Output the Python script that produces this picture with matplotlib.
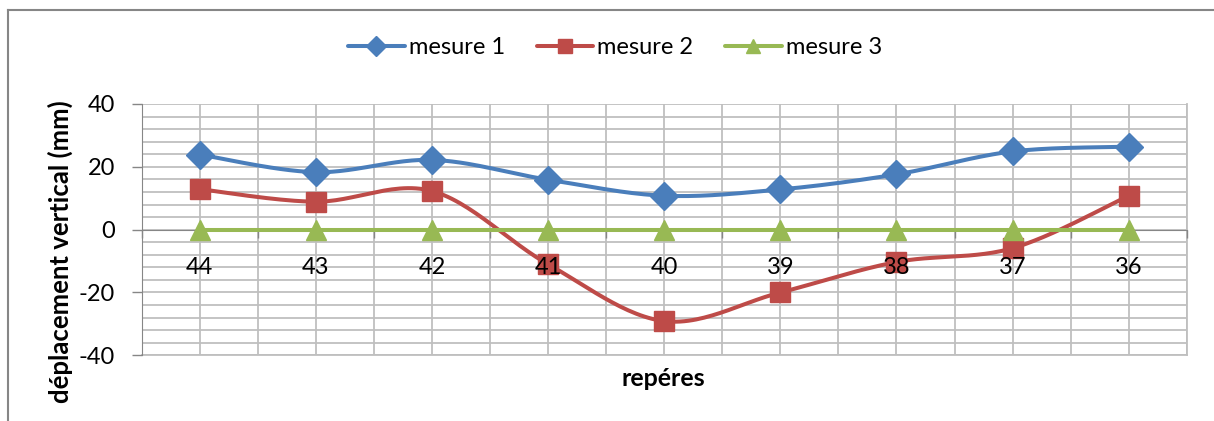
import matplotlib
matplotlib.use("Agg")
import matplotlib.pyplot as plt
from matplotlib.lines import Line2D
from matplotlib.transforms import offset_copy
import numpy as np

plt.rcParams["font.family"] = ["Lato", "DejaVu Sans"]
plt.rcParams["axes.unicode_minus"] = False

# Data
REPERES = ["44", "43", "42", "41", "40", "39", "38", "37", "36"]
MESURE_1 = [23.9, 18.3, 22.2, 15.9, 10.8, 12.8, 17.6, 24.9, 26.4]
MESURE_2 = [12.9, 8.9, 12.3, -11.0, -29.1, -20.0, -10.3, -5.9, 10.8]
MESURE_3 = [0, 0, 0, 0, 0, 0, 0, 0, 0]

SERIES = [
    ("mesure 1", MESURE_1, "#4A7EBB", "D", 14),
    ("mesure 2", MESURE_2, "#BE4B48", "s", 14),
    ("mesure 3", MESURE_3, "#98B954", "^", 15),
]


def smooth(x, y, n=30):
    # Catmull-Rom style bezier, close to Excel "smoothed line"
    x = np.asarray(x, float)
    y = np.asarray(y, float)
    px, py = [], []
    for i in range(len(x) - 1):
        i0 = max(i - 1, 0)
        i3 = min(i + 2, len(x) - 1)
        p0 = np.array([x[i], y[i]])
        p3 = np.array([x[i + 1], y[i + 1]])
        c1 = p0 + (p3 - np.array([x[i0], y[i0]])) / 6
        c2 = p3 - (np.array([x[i3], y[i3]]) - p0) / 6
        t = np.linspace(0, 1, n)[:, None]
        b = ((1 - t) ** 3) * p0 + 3 * ((1 - t) ** 2) * t * c1 + 3 * (1 - t) * t ** 2 * c2 + t ** 3 * p3
        px.extend(b[:, 0])
        py.extend(b[:, 1])
    return px, py


fig = plt.figure(figsize=(12.14, 4.21), dpi=100)
ax = fig.add_axes([0.1166, 0.156, 0.861, 0.597])

xs = np.arange(len(REPERES))
for label, vals, color, marker, ms in SERIES:
    sx, sy = smooth(xs, vals)
    ax.plot(sx, sy, color=color, lw=2.9, solid_capstyle="round", zorder=3)
    ax.plot(xs, vals, linestyle="none", marker=marker, markersize=ms,
            color=color, markeredgecolor=color, zorder=4)

ax.set_xlim(-0.5, len(REPERES) - 0.5)
ax.set_ylim(-40, 40)

# x: tick marks on category boundaries, labels at centres (drawn above the lines)
ax.set_xticks(np.arange(-0.5, len(REPERES), 1.0))
ax.set_xticklabels([])
ax.set_xticks(xs, minor=True)
ax.tick_params(axis="x", which="major", direction="out", length=6, color="#868686", width=1)
ax.tick_params(axis="x", which="minor", length=0, labelbottom=False)
lab_tr = offset_copy(ax.transData, fig=fig, y=-27, units="dots")
for x, lab in zip(xs, REPERES):
    ax.text(x, 0, lab, transform=lab_tr, ha="center", va="top", fontsize=17,
            zorder=6, clip_on=False)

ax.set_yticks([-40, -20, 0, 20, 40])
ax.set_yticks(np.arange(-40, 41, 4), minor=True)
ax.tick_params(axis="y", which="major", direction="out", length=7, color="#868686",
               width=1, pad=12, labelsize=17)
ax.tick_params(axis="y", which="minor", length=0)

ax.grid(True, which="both", color="#BFBFBF", lw=1.3, zorder=0)
ax.set_axisbelow(True)

for s in ["top", "right"]:
    ax.spines[s].set_visible(False)
ax.spines["bottom"].set_position(("data", 0))
ax.spines["bottom"].set_color("#868686")
ax.spines["left"].set_color("#868686")
ax.spines["bottom"].set_zorder(1)

# plot-area outline in gridline colour (bottom and right edge)
ax.plot([-0.5, len(REPERES) - 0.5], [-40, -40], color="#BFBFBF", lw=1.3, zorder=0.5, clip_on=False)
ax.plot([len(REPERES) - 0.5] * 2, [-40, 40], color="#BFBFBF", lw=1.3, zorder=0.5, clip_on=False)

fig.text(60 / 1214, 1 - 252 / 421, "déplacement vertical (mm)", rotation=90,
         ha="center", va="center", fontsize=18.5, fontweight="bold")
fig.text(663 / 1214, 1 - 378 / 421, "repéres", ha="center", va="center",
         fontsize=18, fontweight="bold")

handles = [
    Line2D([0], [0], color=c, lw=2.9, marker=m, markersize=10, solid_capstyle="round")
    for _, _, c, m, ms in SERIES
]
fig.legend(handles, [s[0] for s in SERIES], loc="center", ncol=3, frameon=False,
           bbox_to_anchor=(615 / 1214, 1 - 48 / 421), fontsize=17, handlelength=2.4,
           handletextpad=0.17, columnspacing=1.35)

# chart frame (left and top edges visible in the reference)
fig.add_artist(Line2D([7.5 / 1214, 7.5 / 1214], [0, 1 - 10 / 421], color="#868686", lw=1.5,
                      transform=fig.transFigure))
fig.add_artist(Line2D([7.5 / 1214, 1], [1 - 10 / 421, 1 - 10 / 421], color="#868686", lw=1.5,
                      transform=fig.transFigure))

fig.savefig("out.png", dpi=100)
